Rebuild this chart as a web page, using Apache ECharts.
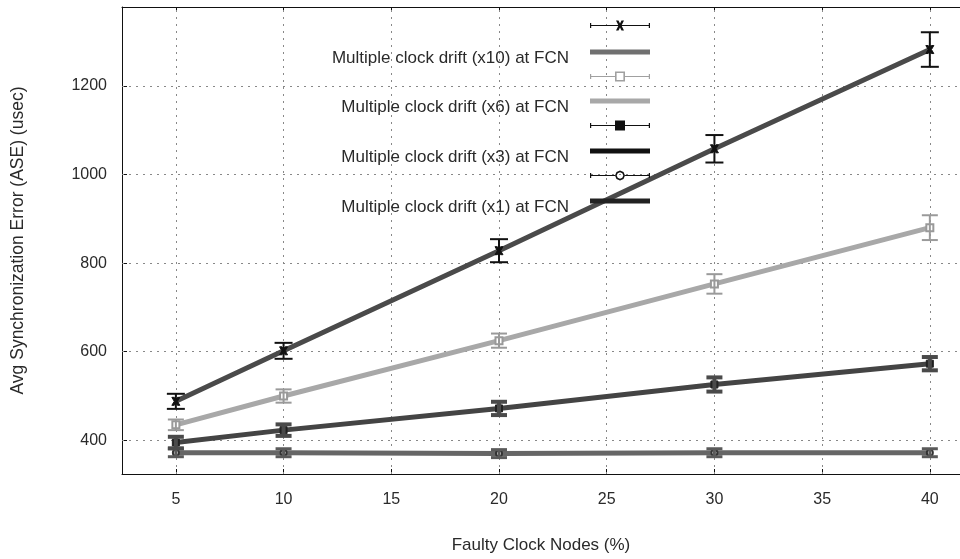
<!DOCTYPE html>
<html>
<head>
<meta charset="utf-8">
<script src="https://cdn.jsdelivr.net/npm/echarts@6/dist/echarts.min.js"></script>
<style>
html, body { margin: 0; padding: 0; background: #fff; }
#chart { width: 960px; height: 559px; }
</style>
</head>
<body>
<div id="chart"></div>
<script>
// faulty clock nodes (%) on x, ASE (usec) on y
const faultyNodes = [5, 10, 20, 30, 40];
const xTicks = [5, 10, 15, 20, 25, 30, 35, 40];
const yTicks = [400, 600, 800, 1000, 1200];

const aseX10 = [488, 602, 828, 1058, 1282];
const errX10 = [17, 18, 26, 31, 39];
const aseX6 = [435, 500, 625, 753, 880];
const errX6 = [12, 15, 16, 22, 28];
const aseX3 = [395, 423, 472, 526, 573];
const errX3 = [13, 13, 15, 16, 15];
const aseX1 = [372, 372, 370, 372, 372];
const errX1 = [9, 9, 9, 9, 9];

const seriesNames = [
    'Multiple clock drift (x10) at FCN',
    'Multiple clock drift (x6) at FCN',
    'Multiple clock drift (x3) at FCN',
    'Multiple clock drift (x1) at FCN'
];

const font = 'Liberation Sans, Arial, sans-serif';

function pairs(vals) {
    return faultyNodes.map((x, i) => [x, vals[i]]);
}
function bars(vals, errs) {
    return faultyNodes.map((x, i) => [x, vals[i] - errs[i], vals[i] + errs[i]]);
}

function errorSeries(name, vals, errs, color, width, cap) {
    return {
        name: name,
        type: 'custom',
        z: 4,
        itemStyle: { color: color },
        data: bars(vals, errs),
        encode: { x: 0, y: [1, 2] },
        renderItem: function (params, api) {
            const lo = api.coord([api.value(0), api.value(1)]);
            const hi = api.coord([api.value(0), api.value(2)]);
            const st = { stroke: color, lineWidth: width };
            return {
                type: 'group',
                children: [
                    { type: 'line', shape: { x1: lo[0], y1: lo[1], x2: hi[0], y2: hi[1] }, style: st },
                    { type: 'line', shape: { x1: lo[0] - cap, y1: lo[1], x2: lo[0] + cap, y2: lo[1] }, style: st },
                    { type: 'line', shape: { x1: hi[0] - cap, y1: hi[1], x2: hi[0] + cap, y2: hi[1] }, style: st }
                ]
            };
        }
    };
}

function lineSeries(name, vals, color, symbol, symbolSize, symbolColor) {
    return {
        name: name,
        type: 'line',
        z: 3,
        data: pairs(vals),
        symbol: symbol,
        symbolSize: symbolSize,
        showSymbol: true,
        lineStyle: { color: color, width: 5 },
        itemStyle: { color: symbolColor, borderColor: symbolColor },
        emphasis: { disabled: true }
    };
}

// errorbar samples for the key, drawn inside a 60x10 box
const barEnds = 'M0 2.5L1.2 2.5L1.2 7.5L0 7.5Z M58.8 2.5L60 2.5L60 7.5L58.8 7.5Z';
const iconX10 = 'path://' + barEnds + ' M0 4.4L60 4.4L60 5.6L0 5.6Z M26 0L28.5 0L30 3L31.5 0L34 0L31.5 5L34 10L31.5 10L30 7L28.5 10L26 10L28.5 5Z';
const iconX6 = 'path://' + barEnds + ' M0 4.5L25 4.5L25 5.5L0 5.5Z M35 4.5L60 4.5L60 5.5L35 5.5Z M25 0L35 0L35 10L25 10Z M26.6 1.6L26.6 8.4L33.4 8.4L33.4 1.6Z';
const iconX3 = 'path://' + barEnds + ' M0 4.4L60 4.4L60 5.6L0 5.6Z M25 0L35 0L35 10L25 10Z';
const iconX1 = 'path://' + barEnds + ' M0 4.4L25 4.4L25 5.6L0 5.6Z M35 4.4L60 4.4L60 5.6L35 5.6Z M35 5L33.5 8.5L30 10L26.5 8.5L25 5L26.5 1.5L30 0L33.5 1.5Z M33.3 5L32.3 2.7L30 1.7L27.7 2.7L26.7 5L27.7 7.3L30 8.3L32.3 7.3Z';

function keyItem(name, yc, icon, h, color, showText) {
    return {
        show: true,
        orient: 'vertical',
        align: 'right',
        right: 310,
        top: showText ? yc - 14 : yc - 8,
        padding: 0,
        itemWidth: 60,
        itemHeight: h,
        selectedMode: false,
        data: [{ name: name, icon: icon, itemStyle: { color: color } }],
        formatter: showText ? '{t|{name}}' : ' ',
        textStyle: {
            fontFamily: font,
            fontSize: 17,
            color: '#2a2a2a',
            rich: {
                t: {
                    fontFamily: font,
                    fontSize: 17,
                    color: '#2a2a2a',
                    lineHeight: 18,
                    padding: [13, 16, 0, 0]
                }
            }
        }
    };
}

const chart = echarts.init(document.getElementById('chart'));

const option = {
    animation: false,
    backgroundColor: '#fff',
    grid: { left: 122, right: 0, top: 7, bottom: 83 },
    legend: [
        keyItem('x10 bars', 25, iconX10, 10, '#111', false),
        keyItem(seriesNames[0], 51, 'rect', 5, '#707070', true),
        keyItem('x6 bars', 76, iconX6, 10, '#a0a0a0', false),
        keyItem(seriesNames[1], 100, 'rect', 5, '#a8a8a8', true),
        keyItem('x3 bars', 125, iconX3, 10, '#111', false),
        keyItem(seriesNames[2], 150, 'rect', 5, '#111', true),
        keyItem('x1 bars', 175, iconX1, 10, '#111', false),
        keyItem(seriesNames[3], 200, 'rect', 5, '#222', true)
    ],
    xAxis: [
        {
            type: 'value',
            position: 'bottom',
            min: 2.5,
            max: 41.4,
            name: 'Faulty Clock Nodes (%)',
            nameLocation: 'middle',
            nameGap: 63,
            nameTextStyle: { fontFamily: font, fontSize: 17, color: '#2a2a2a' },
            axisLine: { show: true, lineStyle: { color: '#111', width: 1 } },
            axisTick: { show: true, inside: true, length: 5, customValues: xTicks, lineStyle: { color: '#111' } },
            axisLabel: { customValues: xTicks, margin: 18, fontFamily: font, fontSize: 16, color: '#2a2a2a' },
            splitLine: { show: false }
        },
        {
            type: 'value',
            position: 'top',
            min: 2.5,
            max: 41.4,
            axisLine: { show: true, onZero: false, lineStyle: { color: '#111', width: 1 } },
            axisTick: { show: true, inside: true, length: 5, customValues: xTicks, lineStyle: { color: '#111' } },
            axisLabel: { show: false },
            splitLine: { show: false }
        }
    ],
    yAxis: {
        type: 'value',
        min: 324,
        max: 1378,
        name: 'Avg Synchronization Error (ASE) (usec)',
        nameLocation: 'middle',
        nameGap: 95,
        nameTextStyle: { fontFamily: font, fontSize: 17.5, color: '#2a2a2a' },
        axisLine: { show: true, lineStyle: { color: '#111', width: 1 } },
        axisTick: { show: true, inside: true, length: 5, customValues: yTicks, lineStyle: { color: '#111' } },
        axisLabel: {
            customValues: yTicks,
            margin: 15,
            fontFamily: font,
            fontSize: 16,
            color: '#2a2a2a',
            formatter: v => String(v)
        },
        splitLine: { show: false }
    },
    series: [
        Object.assign(lineSeries(seriesNames[3], aseX1, '#666', 'emptyCircle', 6, '#333'), {
            markLine: {
                silent: true,
                z: 1,
                symbol: 'none',
                label: { show: false },
                lineStyle: { color: '#888', width: 1, type: [2, 5] },
                data: yTicks.map(v => ({ yAxis: v })).concat(xTicks.map(v => ({ xAxis: v })))
            }
        }),
        lineSeries(seriesNames[2], aseX3, '#444', 'rect', 7, '#222'),
        lineSeries(seriesNames[1], aseX6, '#a8a8a8', 'emptyRect', 7, '#999'),
        lineSeries(seriesNames[0], aseX10, '#4a4a4a', 'path://M0 0L3 0L5 3L7 0L10 0L7 5L10 10L7 10L5 7L3 10L0 10L3 5Z', 8, '#111'),
        errorSeries('x1 bars', aseX1, errX1, '#5a5a5a', 3, 8),
        errorSeries('x3 bars', aseX3, errX3, '#4a4a4a', 4, 8),
        errorSeries('x6 bars', aseX6, errX6, '#9a9a9a', 2, 8),
        errorSeries('x10 bars', aseX10, errX10, '#111', 2, 9)
    ]
};

chart.setOption(option);
</script>
</body>
</html>
